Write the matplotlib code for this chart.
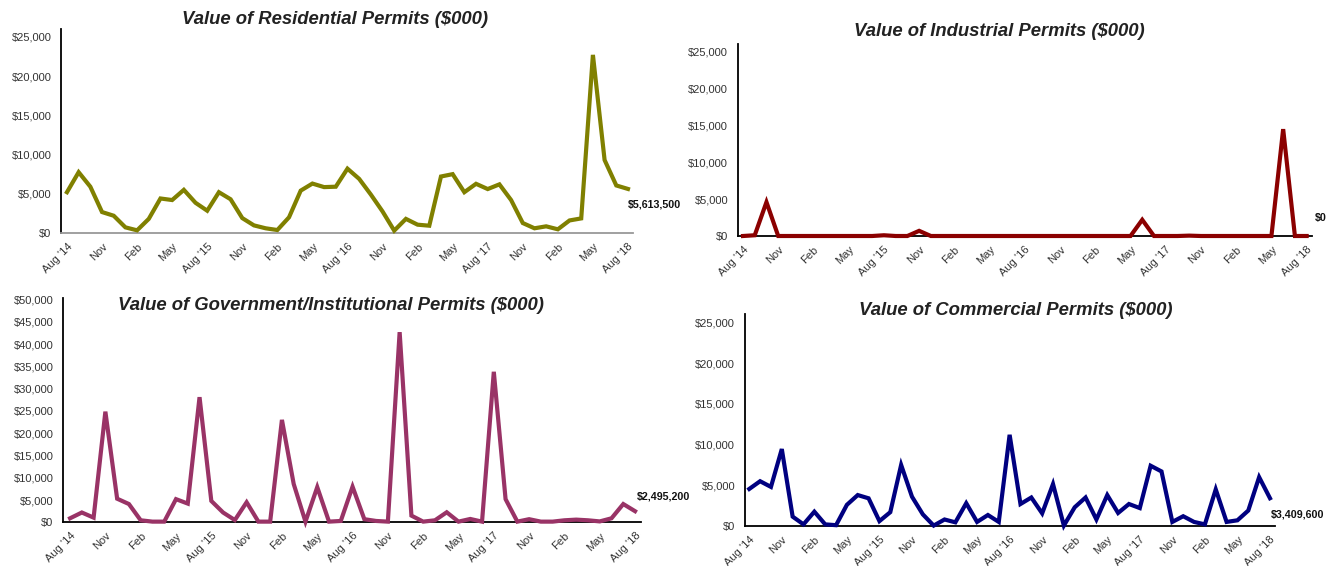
import matplotlib
matplotlib.use("Agg")
import matplotlib.pyplot as plt
from matplotlib.ticker import FuncFormatter, MultipleLocator

plt.rcParams['font.family'] = ['Liberation Sans', 'DejaVu Sans']

# ---- data (values in $000), monthly Aug 2014 .. Aug 2018 ----
months = list(range(49))
tick_labels = ["Aug '14", "Nov", "Feb", "May", "Aug '15", "Nov", "Feb", "May",
               "Aug '16", "Nov", "Feb", "May", "Aug '17", "Nov", "Feb", "May", "Aug '18"]

residential = [5200, 7750, 5900, 2670, 2200, 720, 340, 1800, 4400, 4200, 5500, 3850,
               2840, 5200, 4300, 1900, 970, 600, 380, 2000, 5400, 6300, 5850, 5900,
               8200, 6900, 4900, 2750, 300, 1800, 1060, 930, 7200, 7500, 5200, 6270,
               5600, 6200, 4200, 1270, 600, 850, 470, 1600, 1860, 22700, 9300, 6060, 5613.5]

industrial = [0, 100, 4600, 0, 0, 0, 0, 0, 0, 0, 0, 0,
              100, 0, 0, 700, 0, 0, 0, 0, 0, 0, 0, 0,
              0, 0, 0, 0, 0, 0, 0, 0, 0, 0, 2200, 0,
              0, 0, 50, 0, 0, 0, 0, 0, 0, 0, 14500, 0, 0]

government = [900, 2200, 1050, 24850, 5300, 4100, 450, 150, 150, 5200, 4200, 28100,
              4800, 2200, 500, 4500, 150, 150, 23000, 8600, 150, 7900, 150, 300,
              8000, 700, 300, 150, 42700, 1500, 150, 450, 2250, 150, 750, 150,
              33800, 5200, 150, 700, 150, 150, 450, 600, 450, 200, 900, 4100, 2495.2]

commercial = [4550, 5500, 4800, 9450, 1150, 200, 1760, 200, 100, 2600, 3800, 3400,
              600, 1700, 7500, 3600, 1430, 50, 800, 450, 2800, 500, 1350, 500,
              11200, 2700, 3500, 1550, 5150, 50, 2300, 3500, 800, 3800, 1600, 2700,
              2200, 7400, 6700, 500, 1200, 500, 200, 4500, 500, 700, 1900, 6000, 3409.6]

end_labels = ["$5,613,500", "$0", "$2,495,200", "$3,409,600"]
titles = ["Value of Residential Permits ($000)", "Value of Industrial Permits ($000)",
          "Value of Government/Institutional Permits ($000)", "Value of Commercial Permits ($000)"]

W, H = 1340, 566
fig = plt.figure(figsize=(W / 100, H / 100), dpi=100)
fig.patch.set_facecolor('white')


def add_ax(x0, x1, ytop, ybot):
    return fig.add_axes([x0 / W, 1 - ybot / H, (x1 - x0) / W, (ybot - ytop) / H])


panels = [
    dict(rect=(61, 633, 29, 233), xlim=(-0.51, 48.43), ylim=(0, 26000), step=5000,
         data=residential, color='#808000', bottom='#999999', off=(0, -11.5),
         title_xy=(335, 19)),
    dict(rect=(737.7, 1311.7, 44, 236), xlim=(-0.45, 48.43), ylim=(0, 26050), step=5000,
         data=industrial, color='#8B0000', bottom='black', off=(6, 13),
         title_xy=(999, 32)),
    dict(rect=(63, 640.7, 298.3, 522.3), xlim=(-0.6, 48.48), ylim=(0, 50300), step=5000,
         data=government, color='#993366', bottom='black', off=(1.2, 10.8),
         title_xy=(330.5, 305.7)),
    dict(rect=(744.7, 1275.3, 314.3, 526), xlim=(-0.42, 48.49), ylim=(0, 26000), step=5000,
         data=commercial, color='#000080', bottom='black', off=(0.7, -11.5),
         title_xy=(1015.5, 310.7)),
]

fmt = FuncFormatter(lambda v, p: "${:,.0f}".format(v))

for k, p in enumerate(panels):
    ax = add_ax(*p['rect'])
    ax.plot(months, p['data'], color=p['color'], lw=3.0, solid_joinstyle='miter',
            zorder=3, clip_on=False)
    ax.set_xlim(*p['xlim'])
    ax.set_ylim(*p['ylim'])
    ax.yaxis.set_major_locator(MultipleLocator(p['step']))
    ax.yaxis.set_major_formatter(fmt)
    ax.set_xticks(months[::3])
    ax.set_xticklabels(tick_labels, rotation=45, ha='right', va='top',
                       rotation_mode='anchor')
    ax.tick_params(axis='both', length=0, labelsize=8, labelcolor='#333333')
    ax.tick_params(axis='y', pad=7)
    ax.tick_params(axis='x', pad=6)
    for s in ('top', 'right'):
        ax.spines[s].set_visible(False)
    ax.spines['left'].set_color('black')
    ax.spines['left'].set_linewidth(1.3)
    ax.spines['bottom'].set_color(p['bottom'])
    ax.spines['bottom'].set_linewidth(1.3)
    ax.set_facecolor('none')
    ax.annotate(end_labels[k], xy=(months[-1], p['data'][-1]), xytext=p['off'],
                textcoords='offset points', ha='left', va='center',
                fontsize=7.7, fontweight='bold', color='#111111', annotation_clip=False)
    tx, ty = p['title_xy']
    fig.text(tx / W, 1 - ty / H, titles[k], ha='center', va='center', fontsize=13.3,
             fontweight='bold', fontstyle='italic', color='#222222')

fig.savefig('out.png', dpi=100)
